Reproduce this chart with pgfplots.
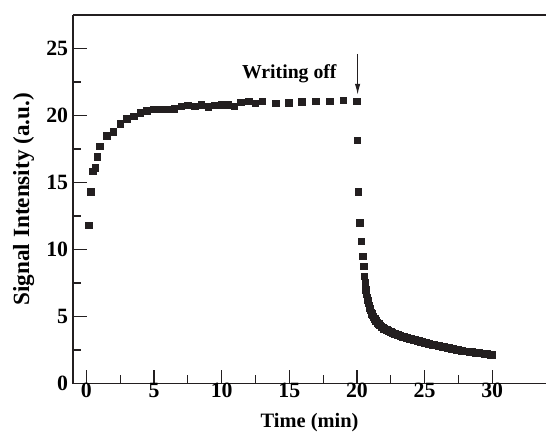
\documentclass[border=0pt]{standalone}
\usepackage{pgfplots}
\pgfplotsset{compat=1.18}
\usetikzlibrary{arrows.meta}
\usepackage{fontspec}
\setmainfont{Liberation Serif}
\definecolor{ink}{HTML}{231F20}

\pgfplotstableread{
t    s
0.17 11.8
0.32 14.3
0.49 15.85
0.66 16.1
0.81 16.9
0.98 17.7
1.52 18.5
2.0  18.8
2.5  19.4
2.98 19.75
3.5  19.95
3.98 20.2
4.47 20.37
4.97 20.45
5.46 20.45
5.95 20.45
6.5  20.5
7.0  20.7
7.5  20.77
8.0  20.7
8.5  20.8
9.0  20.65
9.47 20.77
9.96 20.8
10.45 20.8
10.94 20.7
11.43 21.0
12.0 21.07
12.49 20.9
13.0 21.07
14.0 20.9
14.95 20.95
15.93 21.02
16.97 21.07
18.0 21.07
19.0 21.15
20.0 21.07
}\riseon

\pgfplotstableread{
t    s
20.04 18.15
20.1 14.3
20.2 12.0
20.33 10.6
20.43 9.5
20.5 8.75
20.55 8.0
20.6 7.5
20.65 7.0
20.7 6.7
20.75 6.45
20.8 6.2
20.85 6.0
20.9 5.8
20.95 5.6
21.0 5.45
21.05 5.32
21.1 5.2
21.15 5.1
21.2 5.0
21.3 4.85
21.4 4.7
21.5 4.55
21.6 4.45
21.7 4.35
21.8 4.25
21.9 4.18
22.0 4.1
22.1 4.05
22.2 4.0
22.3 3.95
22.4 3.9
22.5 3.85
22.6 3.8
22.7 3.76
22.8 3.72
22.9 3.68
23.0 3.65
23.1 3.61
23.2 3.58
23.3 3.54
23.4 3.5
23.5 3.47
23.6 3.44
23.7 3.41
23.8 3.38
23.9 3.35
24.0 3.33
24.1 3.30
24.2 3.28
24.3 3.25
24.4 3.22
24.5 3.19
24.6 3.17
24.7 3.13
24.8 3.1
24.9 3.07
25.0 3.05
25.1 3.02
25.2 3.0
25.3 2.97
25.4 2.94
25.5 2.92
25.6 2.9
25.7 2.88
25.8 2.86
25.9 2.84
26.0 2.82
26.1 2.80
26.2 2.78
26.3 2.76
26.4 2.74
26.5 2.72
26.6 2.7
26.7 2.67
26.8 2.65
26.9 2.62
27.0 2.6
27.1 2.58
27.2 2.56
27.3 2.54
27.4 2.52
27.5 2.50
27.6 2.48
27.7 2.46
27.8 2.44
27.9 2.42
28.0 2.41
28.1 2.40
28.2 2.39
28.3 2.37
28.4 2.36
28.5 2.35
28.6 2.34
28.7 2.32
28.8 2.31
28.9 2.29
29.0 2.28
29.1 2.27
29.2 2.26
29.3 2.24
29.4 2.23
29.5 2.21
29.6 2.2
29.7 2.19
29.8 2.18
29.9 2.16
30.0 2.15
}\riseoff

\begin{document}
\begin{tikzpicture}
\begin{axis}[
  scale only axis,
  width=347.5pt, height=270.5pt,
  xmin=-1, xmax=34,
  ymin=0, ymax=27.5,
  axis lines*=left,
  axis line style={line width=1pt, ink},
  xtick={0,5,...,30},
  ytick={0,5,...,25},
  minor x tick num=1,
  minor y tick num=1,
  tick align=inside,
  major tick length=10pt,
  minor tick length=6pt,
  tick style={line width=0.9pt, ink},
  tick label style={font=\bfseries\fontsize{16}{18}\selectfont},
  xticklabel style={yshift=4pt},
  /pgf/number format/assume math mode=true,
  xlabel={Time (min)},
  ylabel={Signal Intensity (a.u.)},
  xlabel style={font=\bfseries\fontsize{15}{17}\selectfont, yshift=-5pt},
  ylabel style={font=\bfseries\fontsize{17}{19}\selectfont, yshift=2pt},
  clip=false,
]
\draw[line width=1pt, ink] (rel axis cs:0,1) -- (rel axis cs:1,1);
\path (rel axis cs:0,1) ++(-53.5pt,11pt);
\path (rel axis cs:0,0) ++(0,-37pt);
\addplot[only marks, mark=square*, mark size=2.4pt, ink] table[x=t, y=s] {\riseon};
\addplot[only marks, mark=square*, mark size=2.4pt, ink] table[x=t, y=s] {\riseoff};
\node[font=\bfseries\fontsize{14.5}{16}\selectfont] at (axis cs:15,23.1) {Writing off};
\draw[-{Latex[length=8pt,width=4pt]}, line width=0.8pt, ink] (axis cs:20.05,24.6) -- (axis cs:20.05,21.55);
\end{axis}
\end{tikzpicture}
\end{document}
